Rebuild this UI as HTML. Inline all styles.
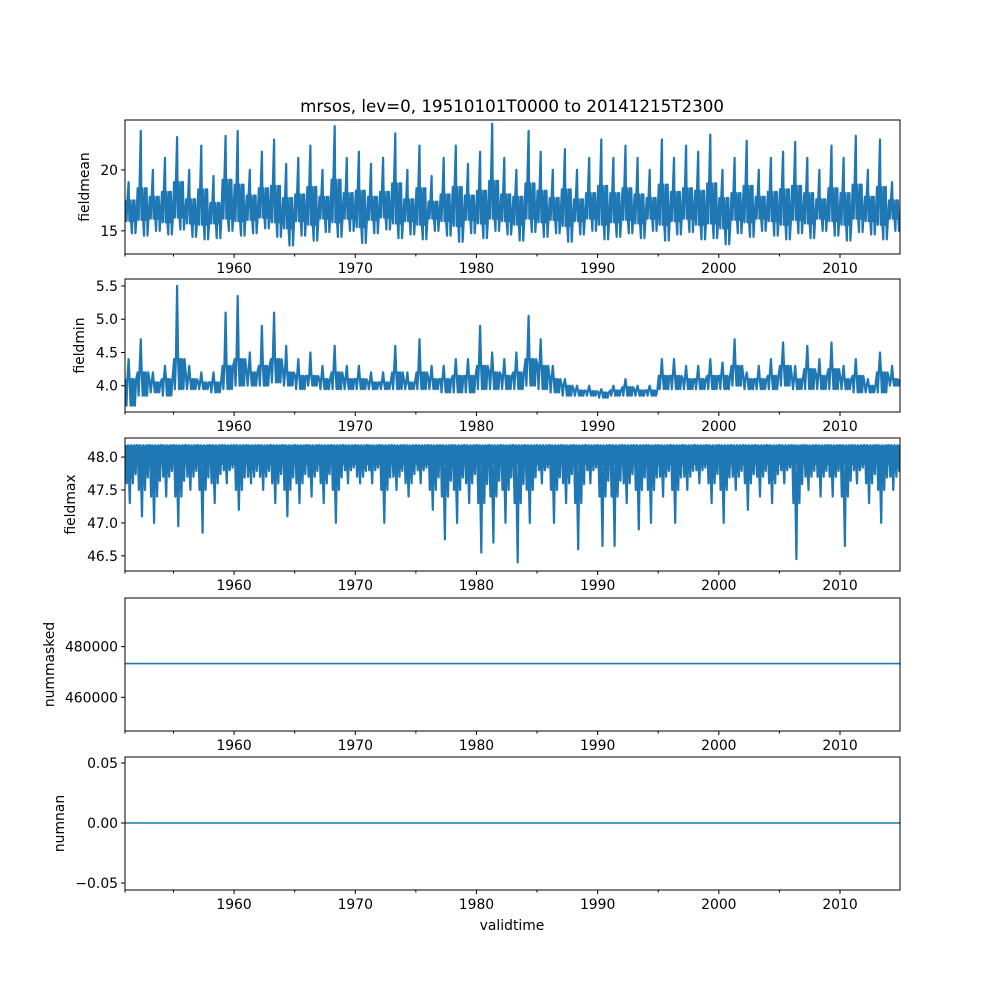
<!DOCTYPE html>
<html><head><meta charset="utf-8"><style>
body{margin:0;background:#fff}
svg{display:block;font-family:"DejaVu Sans","Liberation Sans",sans-serif}
</style></head><body>
<svg id="chart" width="1000" height="1000" viewBox="0 0 1000 1000" xmlns="http://www.w3.org/2000/svg">
<rect width="1000" height="1000" fill="#fff"/>
<text x="512" y="112" font-size="16.7" text-anchor="middle">mrsos, lev=0, 19510101T0000 to 20141215T2300</text>
<text x="512" y="930" font-size="13.9" text-anchor="middle">validtime</text>
<g id="panels"></g>
</svg>
<script>
const years = [];
for (let y = 1951; y <= 2014; y++) years.push(y);
const meanHi = [19,23.2,20,21,22.7,20,22,19.5,22.8,23.2,20,21.5,22.5,20.5,21,22,20,23.6,21,21.5,20.5,21,23,20,22,19.5,21,22,20.5,21.5,23.8,21,20,23.2,21.5,20,21.7,20,21,22.5,21,22,21,20,22.5,21,22,21.5,22.9,20,21,22.4,20,21,21.5,22.3,21,20,22,21,22.8,20,22.5,19];
const meanLo = [14.8,14.6,15,14.7,15.1,14.5,14.3,14.4,15,14.6,14.8,15.2,14.5,13.8,14.6,14.2,14.9,14.5,15,14,14.8,15.1,14.4,14.7,14.3,15,14.6,14.1,14.8,14.4,15,14.7,14.2,14.9,14.5,14.8,14.1,14.7,15,14.3,14.5,14.8,14.4,15,14.2,14.7,14.9,14.3,14.4,13.9,14.8,14.5,15,14.6,14.3,14.8,14.4,15,14.6,14.2,14.9,14.7,14.3,15];
const meanMid = [17.5,18.5,17.8,18.2,19,17.6,18.4,17.3,19.2,18.8,17.9,18.5,18.7,17.7,18,18.6,17.8,19.2,18.1,18.3,17.8,18.2,18.9,17.6,18.5,17.4,18,18.6,17.9,18.3,19.1,18,17.8,18.9,18.3,17.7,18.4,17.6,18.1,18.7,18.1,18.5,18,17.7,18.8,18.2,18.5,18.3,18.9,17.7,18.1,18.7,17.8,18.2,18.4,18.7,18.1,17.6,18.5,18.1,18.8,17.8,18.6,17.5];
const meanLo2 = [15.8,15.9,16.0,15.7,16.1,15.6,15.5,15.6,16.0,15.8,15.9,16.1,15.7,15.2,15.8,15.5,16.0,15.7,16.0,15.3,15.9,16.1,15.6,15.8,15.5,16.0,15.8,15.4,15.9,15.6,16.0,15.8,15.5,16.0,15.7,15.9,15.4,15.8,16.0,15.5,15.7,15.9,15.6,16.0,15.5,15.8,16.0,15.5,15.6,15.2,15.9,15.7,16.0,15.8,15.5,15.9,15.6,16.0,15.8,15.5,16.0,15.8,15.5,16.0];
const minHi = [4.4,4.7,4.2,4.3,5.5,4.3,4.2,4.2,5.1,5.35,4.5,4.9,5.1,4.6,4.4,4.5,4.3,4.6,4.3,4.3,4.2,4.2,4.6,4.2,4.7,4.3,4.3,4.4,4.4,4.9,4.5,4.4,4.5,5.05,4.7,4.3,4.1,4.0,4.0,3.95,4.0,4.1,4.0,4.0,4.4,4.4,4.3,4.3,4.4,4.35,4.7,4.2,4.3,4.4,4.65,4.3,4.6,4.4,4.65,4.3,4.4,4.1,4.5,4.3];
const minLo = [3.7,3.85,3.9,3.85,3.95,3.95,3.95,3.9,3.95,4.0,4.0,4.0,4.05,4.0,3.95,4.0,3.95,3.95,3.95,3.95,3.95,3.95,3.95,3.95,3.95,3.95,3.9,3.9,3.9,3.95,3.95,3.95,3.95,4.0,3.95,3.9,3.85,3.85,3.85,3.82,3.85,3.85,3.85,3.85,3.95,3.95,3.95,3.95,3.95,3.95,4.0,3.95,3.95,3.95,4.0,3.95,3.95,3.95,3.95,3.95,3.9,3.9,3.9,4.0];
const minMid = [4.1,4.2,4.05,4.1,4.4,4.1,4.05,4.05,4.3,4.4,4.2,4.3,4.4,4.2,4.15,4.15,4.1,4.2,4.1,4.1,4.05,4.05,4.2,4.05,4.2,4.1,4.1,4.15,4.15,4.3,4.2,4.15,4.2,4.4,4.3,4.1,4.0,3.93,3.92,3.9,3.93,3.98,3.93,3.93,4.15,4.15,4.1,4.1,4.15,4.15,4.3,4.1,4.1,4.15,4.3,4.1,4.25,4.15,4.25,4.1,4.15,4.0,4.2,4.1];
const maxTop = 48.18;
const maxBand = 47.88;
const maxLo = [47.3,47.1,47.0,47.4,46.95,47.5,46.85,47.3,47.6,47.2,47.6,47.5,47.3,47.1,47.3,47.4,47.3,47.0,47.6,47.6,47.6,47.0,47.5,47.4,47.6,47.2,46.75,47.0,47.3,46.55,46.7,47.0,46.4,47.0,47.6,47.0,47.3,46.6,47.6,46.65,46.65,47.3,46.9,47.0,47.4,47.0,47.5,47.6,47.3,47.0,47.5,47.2,47.4,47.3,47.6,46.45,47.5,47.4,47.4,46.65,47.6,47.3,47.0,47.5];
const maxLo2 = [47.6,47.5,47.4,47.7,47.4,47.7,47.5,47.6,47.8,47.5,47.7,47.7,47.6,47.5,47.6,47.7,47.6,47.5,47.8,47.7,47.8,47.5,47.7,47.6,47.8,47.5,47.4,47.5,47.6,47.3,47.4,47.5,47.3,47.5,47.8,47.5,47.6,47.3,47.8,47.4,47.4,47.6,47.5,47.5,47.7,47.5,47.7,47.8,47.6,47.5,47.7,47.6,47.7,47.6,47.8,47.3,47.7,47.7,47.7,47.4,47.8,47.6,47.5,47.7];
const numMasked = 473300;
const numNan = 0;
const xTicks = [1960,1970,1980,1990,2000,2010];
const xMinor = [1955,1965,1975,1985,1995,2005];

const T0 = 1951.0, T1 = 2014.95, XL = 125, XR = 900;
const xs = t => XL + (t - T0) / (T1 - T0) * (XR - XL);
const NS = 'http://www.w3.org/2000/svg';
const root = document.getElementById('panels');
function mk(tag, attrs, parent) {
  const e = document.createElementNS(NS, tag);
  for (const k in attrs) e.setAttribute(k, attrs[k]);
  (parent || root).appendChild(e);
  return e;
}
const panels = [
  {name:'fieldmean', top:120, bot:254, lo:13.1, hi:24.1, ticks:[15,20], fmt:v=>String(v), lx:89},
  {name:'fieldmin', top:279, bot:412, lo:3.605, hi:5.605, ticks:[4.0,4.5,5.0,5.5], fmt:v=>v.toFixed(1), lx:84},
  {name:'fieldmax', top:438, bot:571, lo:46.27, hi:48.29, ticks:[46.5,47.0,47.5,48.0], fmt:v=>v.toFixed(1), lx:75},
  {name:'nummasked', top:598, bot:731, lo:446700, hi:499200, ticks:[460000,480000], fmt:v=>String(v), lx:54},
  {name:'numnan', top:757, bot:890, lo:-0.0558, hi:0.055, ticks:[-0.05,0,0.05], fmt:v=>(v<0?'\u2212':'')+Math.abs(v).toFixed(2), lx:64}
];
panels.forEach((p, i) => {
  const g = mk('g', {});
  
  
  const ys = v => p.bot - (v - p.lo) / (p.hi - p.lo) * (p.bot - p.top);
  const clipId = 'clip' + i;
  const cp = mk('clipPath', {id: clipId}, g);
  mk('rect', {x: XL, y: p.top, width: XR - XL, height: p.bot - p.top}, cp);
  const dg = mk('g', {'clip-path': 'url(#' + clipId + ')'}, g);
  let pts = [];
  if (i === 0) {
    years.forEach((y, k) => {
      pts.push([y + 0.05, meanMid[k]], [y + 0.12, meanLo2[k]], [y + 0.2, meanMid[k]], [y + 0.3, meanHi[k]], [y + 0.36, meanLo2[k]],
               [y + 0.43, meanMid[k]], [y + 0.5, meanLo2[k]], [y + 0.57, meanLo[k]], [y + 0.64, meanMid[k]], [y + 0.71, meanLo2[k]],
               [y + 0.78, meanMid[k]], [y + 0.86, meanLo[k]], [y + 0.93, meanLo2[k]]);
    });
  } else if (i === 1) {
    years.forEach((y, k) => {
      pts.push([y + 0.05, minMid[k]], [y + 0.12, minLo[k]], [y + 0.2, minMid[k]], [y + 0.3, minHi[k]], [y + 0.38, minMid[k]],
               [y + 0.46, minLo[k]], [y + 0.55, minMid[k]], [y + 0.63, minLo[k]], [y + 0.72, minMid[k]], [y + 0.82, minLo[k]], [y + 0.92, minMid[k]]);
    });
  } else if (i === 2) {
    const band = mk('rect', {x: XL, y: ys(maxTop), width: XR - XL, height: ys(maxBand) - ys(maxTop), fill: '#1f77b4'}, dg);
    
    
    years.forEach((y, k) => {
      pts.push([y + 0.05, maxTop], [y + 0.15, maxLo2[k]], [y + 0.25, maxTop], [y + 0.4, maxLo[k]], [y + 0.5, maxTop], [y + 0.65, maxLo2[k]], [y + 0.75, maxTop], [y + 0.88, (maxLo2[k] + maxBand) / 2], [y + 0.95, maxTop]);
    });
  } else if (i === 3) {
    pts = [[T0, numMasked], [T1, numMasked]];
  } else {
    pts = [[T0, numNan], [T1, numNan]];
  }
  const line = mk('polyline', {points: pts.map(q => xs(q[0]).toFixed(1) + ',' + ys(q[1]).toFixed(1)).join(' '), fill: 'none', stroke: '#1f77b4', 'stroke-width': i < 3 ? 2.2 : 1.6, 'stroke-linejoin': 'round'}, dg);
  
  
  const fr = mk('rect', {x: XL, y: p.top, width: XR - XL, height: p.bot - p.top, fill: 'none', stroke: '#000', 'stroke-width': 1}, g);
  
  
  p.ticks.forEach(v => {
    const y = ys(v);
    mk('line', {x1: XL - 4, x2: XL, y1: y, y2: y, stroke: '#000'}, g);
    const t = mk('text', {x: XL - 7, y: y + 5, 'font-size': 13.9, 'text-anchor': 'end'}, g);
    
    
    t.textContent = p.fmt(v);
  });
  xTicks.forEach(v => {
    const x = xs(v);
    mk('line', {x1: x, x2: x, y1: p.bot, y2: p.bot + 4, stroke: '#000'}, g);
    const t = mk('text', {x: x, y: p.bot + 19, 'font-size': 13.9, 'text-anchor': 'middle'}, g);
    
    
    t.textContent = String(v);
  });
  xMinor.concat([T0]).forEach(v => {
    const x = xs(v);
    mk('line', {x1: x, x2: x, y1: p.bot, y2: p.bot + 2.5, stroke: '#000'}, g);
  });
  const cy = (p.top + p.bot) / 2;
  const yl = mk('text', {x: p.lx, y: cy, 'font-size': 13.9, 'text-anchor': 'middle', transform: 'rotate(-90 ' + p.lx + ' ' + cy + ')'}, g);
  
  
  yl.textContent = p.name;
});
</script>
</body></html>
